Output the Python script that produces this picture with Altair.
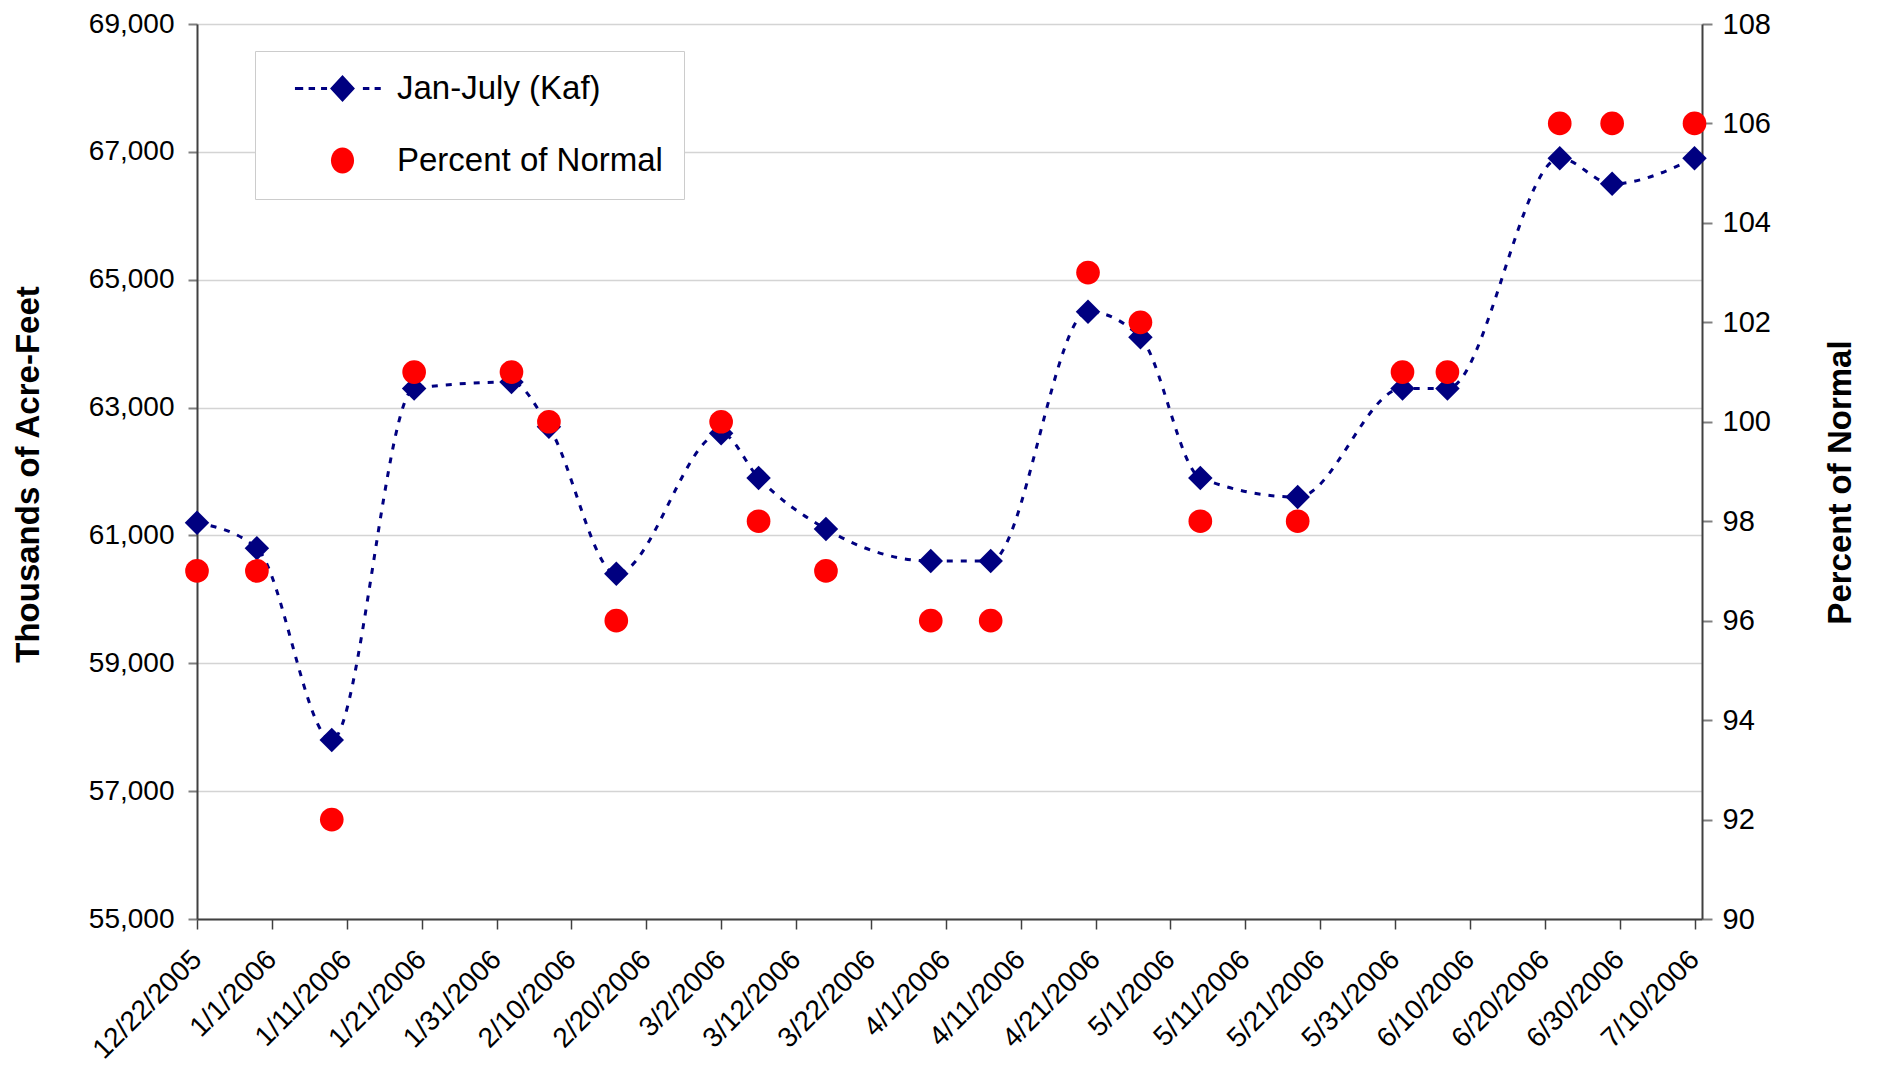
import altair as alt
import pandas as pd

# ---- data ----
dates = ["2005-12-22", "2005-12-30", "2006-01-09", "2006-01-20", "2006-02-02",
         "2006-02-07", "2006-02-16", "2006-03-02", "2006-03-07", "2006-03-16",
         "2006-03-30", "2006-04-07", "2006-04-20", "2006-04-27", "2006-05-05",
         "2006-05-18", "2006-06-01", "2006-06-07", "2006-06-22", "2006-06-29",
         "2006-07-10"]
kaf = [61200, 60800, 57800, 63300, 63400, 62700, 60400, 62600, 61900, 61100,
       60600, 60600, 64500, 64100, 61900, 61600, 63300, 63300, 66900, 66500,
       66900]
pct = [97, 97, 92, 101, 101, 100, 96, 100, 98, 97, 96, 96, 103, 102, 98, 98,
       101, 101, 106, 106, 106]
tick_dates = ["2005-12-22", "2006-01-01", "2006-01-11", "2006-01-21", "2006-01-31",
              "2006-02-10", "2006-02-20", "2006-03-02", "2006-03-12", "2006-03-22",
              "2006-04-01", "2006-04-11", "2006-04-21", "2006-05-01", "2006-05-11",
              "2006-05-21", "2006-05-31", "2006-06-10", "2006-06-20", "2006-06-30",
              "2006-07-10"]
x_domain = ["2005-12-22", "2006-07-11"]
left_ticks = [55000, 57000, 59000, 61000, 63000, 65000, 67000, 69000]
right_ticks = [90, 92, 94, 96, 98, 100, 102, 104, 106, 108]
series = ["Jan-July (Kaf)", "Percent of Normal"]

def ms(s):
    return int(pd.Timestamp(s, tz="UTC").value // 10**6)

df = pd.DataFrame({"date": dates, "kaf": kaf, "pct": pct})

FONT = "Liberation Sans"
NAVY = "#000080"
RED = "#ff0000"

x_enc = alt.X(
    "date:T",
    scale=alt.Scale(type="utc", domain=[ms(d) for d in x_domain], nice=False),
    axis=alt.Axis(
        values=[ms(d) for d in tick_dates],
        labelExpr="utcFormat(datum.value, '%-m/%-d/%Y')",
        labelAngle=-45, labelAlign="right", labelBaseline="middle",
        labelPadding=26, tickSize=10, grid=False, title=None,
        labelFontSize=28, labelFont=FONT, labelColor="#000000",
        domainColor="#404040", domainWidth=2, tickColor="#404040", tickWidth=1.5,
        labelOverlap=False, labelBound=False, labelFlush=False,
    ),
)

y_left = alt.Y(
    "kaf:Q",
    scale=alt.Scale(domain=[55000, 69000], nice=False, zero=False),
    axis=alt.Axis(
        orient="left", values=left_ticks, labelExpr="format(datum.value, ',')",
        title="Thousands of Acre-Feet",
        grid=True, gridColor="#d4d4d4", gridWidth=1.5,
        tickSize=9, labelPadding=14, tickColor="#808080", tickWidth=2,
        domainColor="#404040", domainWidth=2,
        labelFontSize=28, labelFont=FONT, labelColor="#000000",
        titleFontSize=33, titleFont=FONT, titleFontWeight="bold", titleColor="#000000",
        titleAngle=270, titleAlign="center", titleBaseline="middle",
        titleX=-169, titleY=450,
    ),
)

y_right = alt.Y(
    "pct:Q",
    scale=alt.Scale(domain=[90, 108], nice=False, zero=False),
    axis=alt.Axis(
        orient="right", values=right_ticks, title="Percent of Normal", grid=False,
        tickSize=10, labelPadding=10, tickColor="#808080", tickWidth=2,
        domainColor="#404040", domainWidth=2,
        labelFontSize=29, labelFont=FONT, labelColor="#000000",
        titleFontSize=33, titleFont=FONT, titleFontWeight="bold", titleColor="#000000",
        titleAngle=270, titleAlign="center", titleBaseline="middle",
        titleX=138, titleY=458,
    ),
)

base = alt.Chart(df)

line = base.mark_line(
    color=NAVY, strokeWidth=3, strokeDash=[6, 8], interpolate="monotone"
).encode(x=x_enc, y=y_left)

diamonds = base.mark_point(
    shape="diamond", filled=True, color=NAVY, size=600, opacity=1
).encode(x=x_enc, y=y_left)

circles = base.mark_point(
    shape="circle", filled=True, color=RED, size=560, opacity=1
).encode(x=x_enc, y=y_right)

# legend symbols (custom paths; unit = 15 px)
def rect(x1, x2):
    return f"M{x1},-0.1L{x2},-0.1L{x2},0.1L{x1},0.1Z"

diamond_path = ("M0,-0.9L0.83,0L0,0.9L-0.83,0Z" + rect(-3.17, -2.62) + rect(-2.26, -1.83)
                + rect(-1.43, -1.03) + rect(1.36, 1.79) + rect(2.14, 2.55))
circle_path = "M-0.77,0A0.77,0.87 0 1,0 0.77,0A0.77,0.87 0 1,0 -0.77,0Z"

legend = alt.Legend(
    title=None, orient="none", legendX=58, legendY=27,
    padding=21, rowPadding=38, symbolOffset=50, labelOffset=38,
    symbolSize=900, symbolStrokeWidth=0, symbolOpacity=1,
    labelFontSize=33, labelFont=FONT, labelColor="#000000", labelLimit=500,
    strokeColor="#cccccc", fillColor="#ffffff",
)

legend_layer = alt.Chart(pd.DataFrame({"series": series})).transform_filter(
    "false"
).mark_point(filled=True, opacity=1).encode(
    color=alt.Color("series:N", scale=alt.Scale(domain=series, range=[NAVY, RED]), legend=legend),
    shape=alt.Shape("series:N", scale=alt.Scale(domain=series, range=[diamond_path, circle_path]), legend=legend),
)

chart = alt.layer(
    alt.layer(line, diamonds), circles, legend_layer
).resolve_scale(y="independent").properties(
    width=1505, height=895,
    autosize=alt.AutoSizeParams(type="none"),
    padding={"left": 189, "top": 16, "right": 166, "bottom": 146},
).configure_view(stroke="#808080", strokeWidth=2).configure(background="#ffffff")

chart.save("out.html", embed_options={"renderer": "svg", "actions": False})
